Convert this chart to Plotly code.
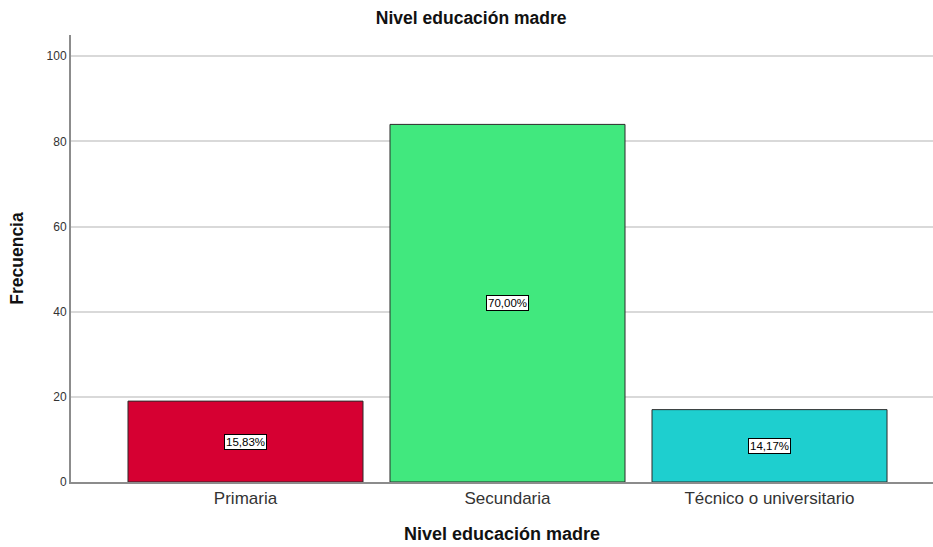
import plotly.graph_objects as go

categories = ["Primaria", "Secundaria", "Técnico o universitario"]
counts = [19, 84, 17]
bar_colors = ["#D60032", "#41E87E", "#1ECFCF"]
y_ticks = [0, 20, 40, 60, 80, 100]

total = sum(counts)
pct_labels = [f"{c / total * 100:.2f}%".replace(".", ",") for c in counts]

fig = go.Figure()
fig.add_trace(go.Bar(
    x=categories,
    y=counts,
    width=0.897,
    marker=dict(color=bar_colors, line=dict(color="#2b2b2b", width=1)),
    hoverinfo="x+y",
))

for cat, c, lab in zip(categories, counts, pct_labels):
    fig.add_annotation(
        x=cat, y=c / 2, text=lab, showarrow=False,
        font=dict(family="Liberation Sans, Arial", size=11.5, color="#000000"),
        bgcolor="#ffffff", bordercolor="#000000", borderwidth=1, borderpad=1,
    )

fig.update_layout(
    width=933, height=547,
    margin=dict(l=71, r=0, t=35, b=65),
    paper_bgcolor="#ffffff", plot_bgcolor="#ffffff",
    showlegend=False,
    font=dict(family="Liberation Sans, Arial", color="#222222"),
    title=dict(
        text="<b>Nivel educación madre</b>",
        x=0.505, xanchor="center", y=0.968, yanchor="middle",
        font=dict(size=17.5, color="#111111"),
    ),
    xaxis=dict(
        range=[-0.666, 2.624],
        showline=True, linecolor="#8c8c8c", linewidth=2,
        showgrid=False, ticks="",
        tickfont=dict(size=17, color="#333333"),
        title=dict(text="<b>Nivel educación madre</b>",
                   font=dict(size=18, color="#111111"), standoff=20),
    ),
    yaxis=dict(
        range=[0, 105],
        tickvals=y_ticks,
        showline=True, linecolor="#8c8c8c", linewidth=2,
        showgrid=True, gridcolor="#d9d9d9", gridwidth=1.5,
        zeroline=False, ticks="",
        tickfont=dict(size=12, color="#333333"),
        title=dict(text="<b>Frecuencia</b>",
                   font=dict(size=17.5, color="#111111"), standoff=18),
    ),
)

fig.write_html("out.html")
